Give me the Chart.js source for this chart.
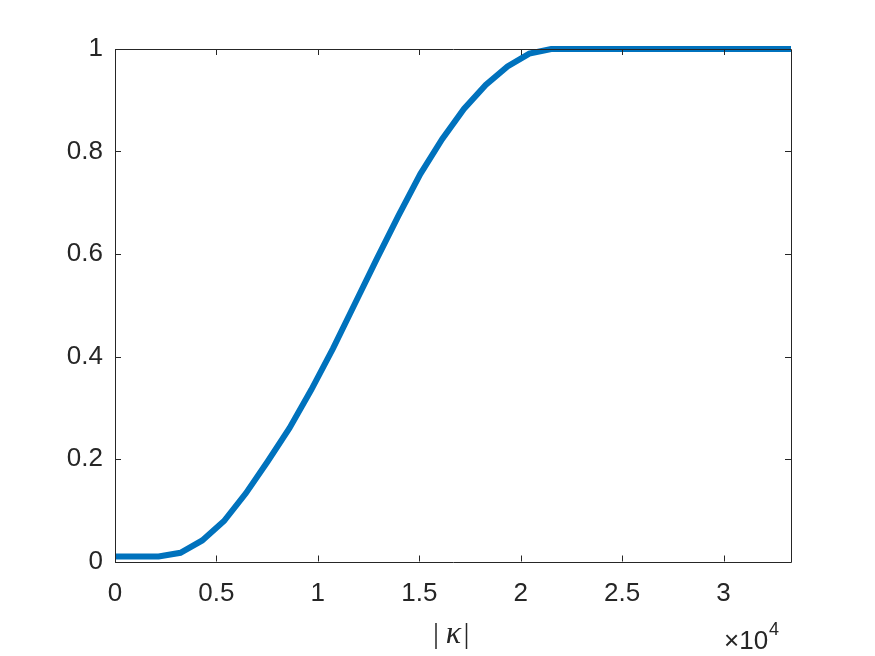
<!DOCTYPE html>
<html>
<head>
<meta charset="utf-8">
<script src="https://cdn.jsdelivr.net/npm/chart.js@4.4.1/dist/chart.umd.min.js"></script>
<style>
  html, body { margin: 0; padding: 0; background: #ffffff; }
  #wrap { width: 875px; height: 656px; position: relative; }
</style>
</head>
<body>
<div id="wrap"><canvas id="c" width="875" height="656"></canvas></div>
<script>
// |kappa| sample positions (raw units, axis shown in x10^4)
const kappaValues = [0, 1075, 2150, 3225, 4300, 5375, 6450, 7525, 8600, 9675,
  10750, 11825, 12900, 13975, 15050, 16125, 17200, 18275, 19350, 20425,
  21500, 22575, 23650, 24725, 25800, 26875, 27950, 29025, 30100, 31175,
  32250, 33325];
const probValues = [0.01, 0.01, 0.01, 0.017, 0.041, 0.079, 0.133, 0.195, 0.26, 0.335,
  0.416, 0.503, 0.59, 0.675, 0.756, 0.824, 0.883, 0.93, 0.966, 0.991,
  1, 1, 1, 1, 1, 1, 1, 1, 1, 1,
  1, 1];
const xTickValues = [0, 5000, 10000, 15000, 20000, 25000, 30000];
const xTickLabels = ['0', '0.5', '1', '1.5', '2', '2.5', '3'];
const yTickValues = [0, 0.2, 0.4, 0.6, 0.8, 1];
const yTickLabels = ['0', '0.2', '0.4', '0.6', '0.8', '1'];
const xAxisLabelParts = ['|', 'κ', '|'];
const xExponentText = ['×10', '4'];

const AXIS_COLOR = '#262626';
const LINE_COLOR = '#0072BD';
const TICK_FONT = '"Liberation Sans", Arial, Helvetica, sans-serif';

const points = kappaValues.map((k, i) => ({ x: k, y: probValues[i] }));

const matlabAxes = {
  id: 'matlabAxes',
  afterDatasetsDraw(chart) {
    const { ctx, chartArea: a, scales } = chart;
    const xs = scales.x, ys = scales.y;
    const tl = 6;
    ctx.save();
    ctx.strokeStyle = AXIS_COLOR;
    ctx.lineWidth = 1;
    ctx.beginPath();
    ctx.rect(Math.round(a.left) + 0.5, Math.round(a.top) + 0.5,
             Math.round(a.right - a.left), Math.round(a.bottom - a.top));
    xTickValues.forEach(v => {
      const px = Math.round(xs.getPixelForValue(v)) + 0.5;
      ctx.moveTo(px, a.bottom); ctx.lineTo(px, a.bottom - tl);
      ctx.moveTo(px, a.top); ctx.lineTo(px, a.top + tl);
    });
    yTickValues.forEach(v => {
      const py = Math.round(ys.getPixelForValue(v)) + 0.5;
      ctx.moveTo(a.left, py); ctx.lineTo(a.left + tl, py);
      ctx.moveTo(a.right, py); ctx.lineTo(a.right - tl, py);
    });
    ctx.stroke();

    // x label |κ|
    ctx.fillStyle = AXIS_COLOR;
    ctx.textBaseline = 'alphabetic';
    ctx.textAlign = 'center';
    const cx = (a.left + a.right) / 2;
    const fontUp = '30px "Liberation Serif", "DejaVu Serif", serif';
    const fontIt = 'italic 32px "Liberation Serif", "DejaVu Serif", serif';
    const base = 643;
    ctx.font = fontUp;
    ctx.fillText(xAxisLabelParts[0], cx - 17, base);
    ctx.font = fontIt;
    ctx.fillText(xAxisLabelParts[1], cx + 0.5, base);
    ctx.font = fontUp;
    ctx.fillText(xAxisLabelParts[2], cx + 13.5, base);

    // x10^4 exponent
    ctx.textAlign = 'left';
    ctx.font = '26px ' + TICK_FONT;
    ctx.fillText(xExponentText[0], 724, 649);
    const w1 = ctx.measureText(xExponentText[0]).width;
    ctx.font = '18px ' + TICK_FONT;
    ctx.fillText(xExponentText[1], 724 + w1 + 1, 635);
    ctx.restore();
  }
};

new Chart(document.getElementById('c'), {
  type: 'line',
  data: {
    datasets: [{
      data: points,
      borderColor: LINE_COLOR,
      backgroundColor: LINE_COLOR,
      borderWidth: 6,
      pointRadius: 0,
      tension: 0,
      fill: false,
      clip: 10
    }]
  },
  options: {
    responsive: false,
    animation: false,
    devicePixelRatio: 1,
    layout: { padding: { left: 0, right: 84, top: 49, bottom: 0 } },
    plugins: { legend: { display: false }, tooltip: { enabled: false }, title: { display: false } },
    scales: {
      x: {
        type: 'linear',
        min: 0,
        max: 33325,
        afterFit(scale) { scale.height = 94.5; },
        afterBuildTicks(scale) { scale.ticks = xTickValues.map(v => ({ value: v })); },
        grid: { display: false, drawTicks: false },
        border: { display: false },
        ticks: {
          padding: 17,
          color: AXIS_COLOR,
          font: { size: 26, family: TICK_FONT },
          maxRotation: 0,
          autoSkip: false,
          callback: (v) => xTickLabels[xTickValues.indexOf(v)]
        }
      },
      y: {
        type: 'linear',
        min: 0,
        max: 1,
        afterFit(scale) { scale.width = 115; },
        afterBuildTicks(scale) { scale.ticks = yTickValues.map(v => ({ value: v })); },
        grid: { display: false, drawTicks: false },
        border: { display: false },
        ticks: {
          padding: 12,
          color: AXIS_COLOR,
          font: { size: 26, family: TICK_FONT },
          autoSkip: false,
          callback: (v) => yTickLabels[yTickValues.indexOf(v)]
        }
      }
    }
  },
  plugins: [matlabAxes]
});
</script>
</body>
</html>
